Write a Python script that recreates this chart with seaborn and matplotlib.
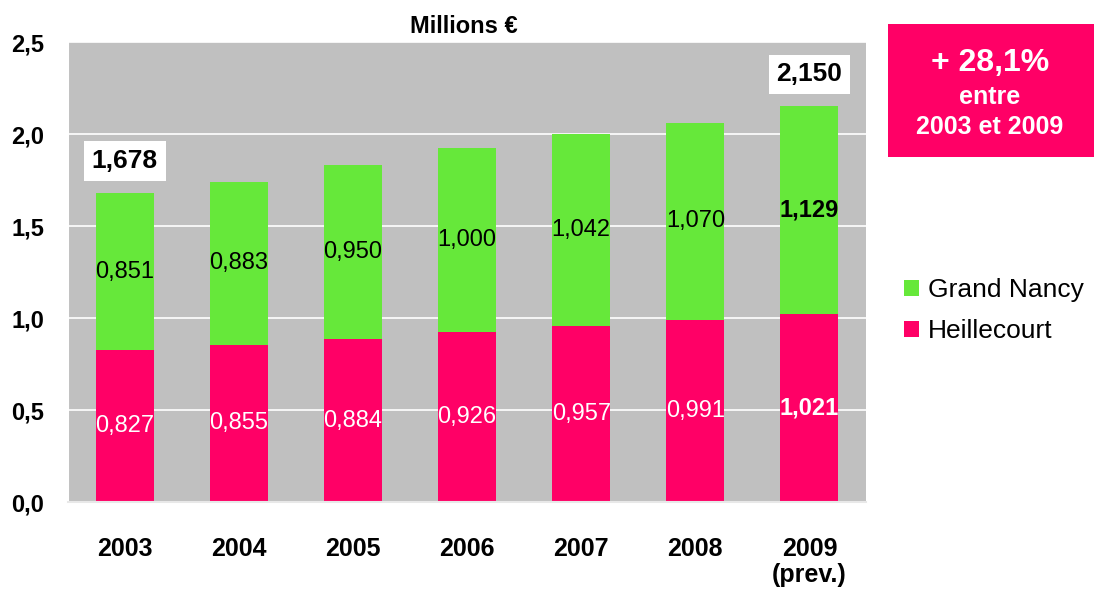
import pandas as pd
import matplotlib.pyplot as plt
import seaborn as sns
from matplotlib.patches import Patch

years = ["2003", "2004", "2005", "2006", "2007", "2008", "2009\n(prev.)"]
heillecourt = [0.827, 0.855, 0.884, 0.926, 0.957, 0.991, 1.021]
grand_nancy = [0.851, 0.883, 0.950, 1.000, 1.042, 1.070, 1.129]
total_labels = {"2003": "1,678", "2009\n(prev.)": "2,150"}
bold_years = ["2009\n(prev.)"]

GREEN = "#66e83a"
PINK = "#ff0066"
GREY = "#c0c0c0"

df = pd.DataFrame({"year": years, "heillecourt": heillecourt, "grand_nancy": grand_nancy})
df["total"] = df["heillecourt"] + df["grand_nancy"]

sns.set_theme(style="white")
plt.rcParams["font.family"] = ["Liberation Sans", "DejaVu Sans"]
plt.rcParams["text.color"] = "black"
plt.rcParams["xtick.color"] = "black"
plt.rcParams["ytick.color"] = "black"

fig = plt.figure(figsize=(10.94, 5.92), dpi=100)
ax = fig.add_axes([0.062, 0.152, 0.730, 0.777])
ax.set_facecolor(GREY)

sns.barplot(data=df, x="year", y="total", color=GREEN, width=0.51, saturation=1,
            linewidth=0, ax=ax, zorder=2)
sns.barplot(data=df, x="year", y="heillecourt", color=PINK, width=0.51, saturation=1,
            linewidth=0, ax=ax, zorder=2)

ax.set_ylim(0, 2.5)
ax.set_xlim(-0.5, len(years) - 0.5)
ax.set_yticks([0, 0.5, 1.0, 1.5, 2.0, 2.5])
ax.set_yticklabels(["0,0", "0,5", "1,0", "1,5", "2,0", "2,5"], fontsize=17, fontweight="bold")
ax.tick_params(axis="y", length=0, pad=17)
ax.tick_params(axis="x", length=0, pad=25, labelsize=18)
for lbl in ax.get_xticklabels():
    lbl.set_fontweight("bold")
    lbl.set_linespacing(1.1)
ax.grid(axis="y", color="white", linewidth=1.2, zorder=1)
ax.set_axisbelow(True)
ax.set_xlabel("")
ax.set_ylabel("")
for side in ["top", "right"]:
    ax.spines[side].set_visible(False)
ax.spines["left"].set_color("white")
ax.spines["left"].set_linewidth(1.5)
ax.spines["bottom"].set_color("#e8e8e8")
ax.spines["bottom"].set_linewidth(1.5)

for i, row in df.iterrows():
    w = "bold" if row["year"] in bold_years else "normal"
    ax.text(i, row["heillecourt"] / 2, f"{row['heillecourt']:.3f}".replace(".", ","),
            ha="center", va="center", color="white", fontsize=17, fontweight=w, zorder=3)
    ax.text(i, row["heillecourt"] + row["grand_nancy"] / 2, f"{row['grand_nancy']:.3f}".replace(".", ","),
            ha="center", va="center", color="black", fontsize=17, fontweight=w, zorder=3)
    if row["year"] in total_labels:
        ax.annotate(total_labels[row["year"]], (i, row["total"]), xytext=(0, 23), textcoords="offset points",
                    ha="center", va="center", fontsize=19, fontweight="bold", zorder=4,
                    bbox=dict(boxstyle="square,pad=0.3", facecolor="white", edgecolor="none"))

fig.text(0.424, 0.955, "Millions €", ha="center", va="center", fontsize=17, fontweight="bold")

# pink highlight box
fig.patches.append(plt.Rectangle((888 / 1094, 1 - 157 / 592), 206 / 1094, 133 / 592,
                                 transform=fig.transFigure, facecolor=PINK, edgecolor="none"))
fig.text(0.905, 1 - 63 / 592, "+ 28,1%", ha="center", va="center", color="white", fontsize=23, fontweight="bold")
fig.text(0.905, 1 - 97 / 592, "entre", ha="center", va="center", color="white", fontsize=18, fontweight="bold")
fig.text(0.905, 1 - 127 / 592, "2003 et 2009", ha="center", va="center", color="white", fontsize=18, fontweight="bold")

handles = [Patch(facecolor=GREEN, edgecolor="none", label="Grand Nancy"),
           Patch(facecolor=PINK, edgecolor="none", label="Heillecourt")]
fig.legend(handles=handles, loc="center left", bbox_to_anchor=(0.805, 0.475), frameon=False,
           fontsize=19, handlelength=0.55, handleheight=0.55, handletextpad=0.35, labelspacing=0.65)

fig.savefig("out.png", dpi=100)
plt.close(fig)
